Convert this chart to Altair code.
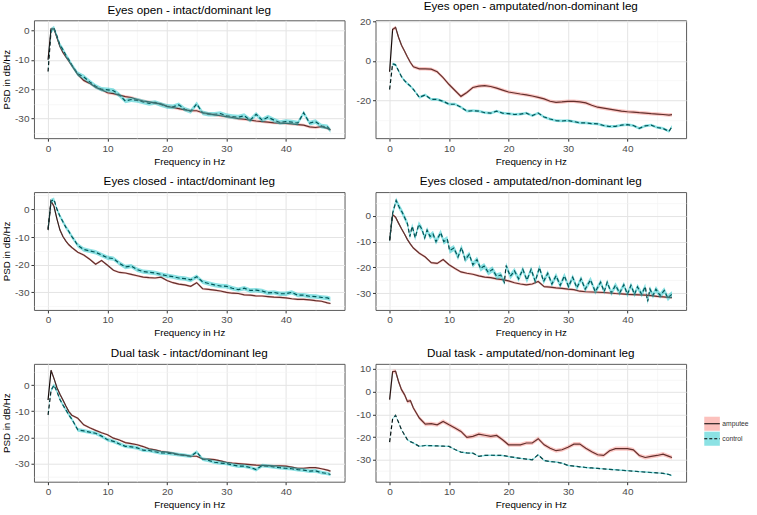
import altair as alt
import pandas as pd

# ---------------- data ----------------
FREQ = [0, 0.5, 1, 1.5, 2, 2.5, 3, 3.5, 4, 5, 6, 7, 8, 9, 10, 11, 12, 13, 14, 15, 16, 17, 18, 19,
        20, 21, 22, 23, 24, 25, 26, 27, 28, 29, 30, 31, 32, 33, 34, 35, 36, 37, 38, 39, 40, 41,
        42, 43, 44, 45, 46, 47, 47.5]

EO_INTACT_AMP = [-10, 0.5, 0.5, -2.5, -5.5, -7.5, -9, -10.5, -12, -15, -17, -18, -19.3, -20.2, -21.2,
                 -21.5, -22, -22.5, -22.8, -23.5, -24, -24.3, -24.7, -25, -25.8, -26.2, -26.6, -27,
                 -27.3, -27.3, -28, -28.3, -28.7, -29, -29.3, -29.6, -30, -30.2, -30.5, -30.8, -31,
                 -31.2, -31.4, -31.5, -31.6, -31.8, -32, -32.2, -32.8, -33, -32.7, -33.3, -33.8]
EO_INTACT_CTRL = [-14, 0, 0.8, -2, -5, -6.5, -8.5, -10, -11.8, -14.8, -15.8, -17.5, -19, -20, -20.2,
                  -20.5, -22, -24, -23.5, -23.8, -24.3, -24.8, -24.5, -25.2, -25.8, -26, -25.3, -26.8,
                  -27.5, -25, -28, -28.5, -28.5, -28.3, -29, -29.3, -29.5, -29, -30.5, -28.5, -30.5,
                  -29.5, -30.5, -31.3, -31, -31.2, -31.5, -28, -31.5, -31, -32.5, -32.8, -34]

EO_AMPUT_AMP = [-5.5, 16, 17, 12, 8, 5, 2, -0.8, -3, -4, -4, -4.2, -5.5, -8.5, -12, -15, -18, -16,
                -13.5, -12.8, -12.5, -13, -13.8, -14.8, -15.8, -16.3, -16.8, -17.2, -17.8, -18.5,
                -19.3, -20.5, -21, -20.8, -20.5, -20.5, -20.8, -21.3, -22.5, -23.5, -24, -24.5, -25,
                -25.5, -25.8, -26, -26.3, -26.5, -26.8, -27, -27.2, -27.5, -27.3]
EO_AMPUT_CTRL = [-14.5, -1.5, -2, -5, -8, -10, -11.5, -12.8, -14.5, -18.5, -17.3, -19.5, -19.5, -20.5,
                 -22, -22, -23.5, -25.5, -25.3, -25.5, -26.3, -26.5, -25.5, -26.5, -26.8, -27.2, -27,
                 -26.5, -27.8, -26.5, -28.5, -29.5, -30.3, -30.5, -30.3, -30.8, -31.5, -31.5, -31.8,
                 -32, -32.8, -33.3, -33.2, -32.6, -32.4, -32.8, -34.2, -33, -32.6, -33.8, -34.3,
                 -35.8, -33.3]

EC_INTACT_AMP = [-7.5, 3, 1, -3.5, -7.5, -9.8, -11.5, -12.8, -13.8, -15.5, -16.5, -18, -19.8, -18.5,
                 -20.2, -22, -22.8, -23, -23.5, -24, -24.5, -24.7, -24.8, -24.5, -25.7, -26.5, -27,
                 -27.3, -27.8, -26.5, -28.7, -28.9, -29.2, -29.5, -30, -30.3, -30.4, -30.9, -31,
                 -31.3, -31.3, -31.5, -31.7, -31.8, -32, -32.3, -32.5, -32.5, -32.7, -33, -33.2,
                 -33.8, -34]
EC_INTACT_CTRL = [-7, 3, 3.5, 0, -2.5, -4.5, -6.5, -8, -9.8, -13, -14.5, -15, -15.5, -16.5, -17.5,
                  -17.8, -19.5, -20.8, -20.5, -21.8, -22.5, -22.7, -23, -23.5, -24, -24.3, -24.8, -25,
                  -25.5, -24.3, -26.2, -26.8, -27.3, -27.7, -27.8, -28.5, -29, -28.5, -29.3, -29.2,
                  -29.5, -30.2, -30, -30.5, -30.5, -30, -31, -31, -31.4, -31.5, -31.8, -32, -32.4]

EC_AMPUT_AMP = [-9.5, 0.5, -0.5, -2.8, -5, -7, -9.2, -11, -12.5, -14.5, -16, -18.2, -18.5, -17, -19,
                -20.5, -21.8, -22.3, -22.7, -23.3, -23.8, -24, -24.5, -24.8, -25.3, -26, -26.5, -26.8,
                -26.5, -25.5, -27.5, -27.7, -28, -28.2, -28.5, -28.7, -29.3, -29.5, -29.6, -29.7,
                -29.8, -30, -30.2, -30.3, -30.5, -30.6, -30.7, -30.8, -31, -31.3, -31.5, -31.7, -31.8]
EC_AMPUT_CTRL_FREQ = [0, 0.5, 1.1, 1.6, 2.1, 2.6, 3.0, 3.4, 3.8, 4.3, 4.9, 5.4, 5.9, 6.3, 6.8, 7.3,
                      7.8, 8.6, 9.1, 9.7, 10.1, 10.8, 11.5, 12.1, 12.7, 13.4, 14.0, 14.7, 15.3, 15.9,
                      16.6, 17.3, 18.0, 18.7, 19.3, 19.6, 20.3, 21.0, 21.7, 22.4, 23.1, 23.8, 24.5,
                      25.2, 25.9, 26.6, 27.3, 28.0, 28.7, 29.4, 30.1, 30.8, 31.5, 32.2, 32.9, 33.8,
                      34.6, 35.5, 36.1, 36.6, 37.3, 38.0, 38.7, 39.4, 40.0, 40.6, 41.2, 41.7, 42.4,
                      43.0, 43.4, 43.8, 44.3, 44.8, 45.5, 46.2, 46.8, 47.2, 47.5]
EC_AMPUT_CTRL = [-9.5, 1, 6, 3.5, 1.5, -1, -3, -8, -4, -8.5, -3.3, -5, -8.5, -5.5, -8, -7, -10, -6.5,
                 -10, -9, -13.5, -12.5, -16, -12.3, -17, -15, -19, -17, -20.5, -19.5, -22, -20.8,
                 -23.5, -23, -25.8, -19.3, -23.5, -21.4, -24.5, -20.8, -25, -20.8, -25.5, -20.1,
                 -25.5, -22.3, -26.5, -23.3, -27, -23.3, -27.5, -23.9, -28, -24.5, -28.5, -24.9,
                 -29.5, -25.8, -29.5, -25.8, -30, -27, -30, -26.8, -30.5, -27, -30.5, -27.6, -30.5,
                 -27.5, -33.3, -28.5, -31, -28.5, -31, -29, -32, -31, -30.5]

DT_INTACT_AMP = [-5.7, 5.7, 2.5, -1, -3.5, -5.7, -8, -10.1, -11.5, -12.7, -15.2, -16.3, -17.3, -18.2,
                 -19, -20.3, -21, -22, -22.4, -22.8, -23.5, -24.4, -24.8, -25.3, -25.6, -26, -26.6,
                 -26.8, -27.2, -27.2, -28.2, -28.3, -28.5, -29, -29.5, -29.8, -30, -30.2, -30.4, -30.6,
                 -30.7, -30.8, -30.9, -30.9, -31, -31.4, -31.8, -31.8, -31.6, -31.6, -32, -32.5, -32.9]
DT_INTACT_CTRL = [-11.4, -2, 0, -2.5, -5.5, -7.6, -9.5, -11.4, -13, -17.1, -17.5, -18, -18.4, -19.5,
                  -20.9, -21.5, -22.5, -23.4, -23.6, -24, -24.9, -25, -25.5, -25.9, -26, -26.3, -26.6,
                  -26.9, -27.2, -25.6, -28.3, -28.8, -29.5, -29.8, -30, -30.5, -31, -31, -31.5, -32.3,
                  -30.8, -31, -31.3, -31.6, -31.8, -32, -32.3, -32.5, -32.9, -32.8, -33.5, -33.8, -34.2]

DT_AMPUT_AMP = [-3.5, 8.8, 9, 4.5, 0.9, -1.3, -4.3, -4, -7.2, -11.6, -14.3, -14.1, -14.6, -13.1,
                -14.6, -16, -17.5, -20.1, -19.7, -18.7, -19.2, -19.7, -19.3, -21.2, -23.4, -23.4,
                -23.4, -22.6, -22.6, -20.7, -23.4, -24.9, -26, -25.6, -24.5, -23.1, -23.1, -24.9,
                -26.5, -27.8, -28.1, -26, -25.1, -25.1, -25.1, -25.6, -28.1, -29, -28.5, -28.1,
                -27.5, -28.5, -29]
DT_AMPUT_CTRL = [-22.2, -12, -10.4, -13.5, -16.8, -19, -21.2, -22, -22.6, -24.1, -23.7, -23.8, -23.9,
                 -24, -24.1, -25.5, -26.6, -27, -27.1, -28.5, -28.1, -28, -28.1, -28.1, -28.6, -29,
                 -29.4, -29.7, -30, -27.8, -30.3, -30.8, -31, -31.5, -32.5, -32.8, -33.1, -33.4,
                 -33.6, -33.8, -34, -34.2, -34.4, -34.6, -34.8, -35, -35.2, -35.4, -35.6, -35.8,
                 -36, -36.5, -37]

# standard errors (ribbon half-widths) read from the ribbons
SE = {
    "eo_int": (0.5, 0.8), "eo_amp": (0.9, 0.7),
    "ec_int": (0.4, 0.8), "ec_amp": (0.5, 1.2),
    "dt_int": (0.4, 0.7), "dt_amp": (0.9, 0.3),
}

GROUPS = ["amputee", "control"]
RIBBON_COLORS = ["#F8766D", "#00BFC4"]
FONT = "Liberation Sans"
PANEL_W, PANEL_H = 311, 118


def series_df(x, y, se, group):
    return pd.DataFrame({"freq": x, "psd": y,
                         "lo": [v - se for v in y], "hi": [v + se for v in y],
                         "group": group})


def expand(lo, hi, f=0.05):
    pad = (hi - lo) * f
    return [lo - pad, hi + pad]


XDOM = expand(min(FREQ), max(FREQ))


def cond(test, a, b):
    return {"condition": {"test": test, "value": a}, "value": b}


def panel(title, amp_x, amp_y, ctrl_x, ctrl_y, se, step, ytitle):
    a = series_df(amp_x, amp_y, se[0], "amputee")
    c = series_df(ctrl_x, ctrl_y, se[1], "control")
    ydom = expand(min(a.lo.min(), c.lo.min()), max(a.hi.max(), c.hi.max()))
    half = step // 2
    k0 = int(ydom[0] // half) + 1
    k1 = int(ydom[1] // half)
    yvals = [int(k * half) for k in range(k0, k1 + 1)]
    xvals = [0, 5, 10, 15, 20, 25, 30, 35, 40, 45]

    xt = "datum.value % 10 === 0"
    yt = "datum.value %% %d === 0" % step
    xaxis = alt.Axis(values=xvals, title="Frequency in Hz",
                     labelExpr="%s ? '' + datum.value : ''" % xt,
                     tickOpacity=cond(xt, 1, 0),
                     gridColor=cond(xt, "#E4E4E4", "#F1F1F1"),
                     gridWidth=cond(xt, 1, 0.6))
    yaxis = alt.Axis(values=yvals, title="PSD in dB/Hz" if ytitle else None,
                     labelExpr="%s ? '' + datum.value : ''" % yt,
                     tickOpacity=cond(yt, 1, 0),
                     gridColor=cond(yt, "#E4E4E4", "#F1F1F1"),
                     gridWidth=cond(yt, 1, 0.6))
    yscale = alt.Scale(domain=ydom, nice=False, zero=False)
    X = alt.X("freq:Q", scale=alt.Scale(domain=XDOM, nice=False, zero=False), axis=xaxis)
    Y = alt.Y("psd:Q", scale=yscale, axis=yaxis)
    YLO = alt.Y("lo:Q", scale=yscale, axis=yaxis)

    ctrl_line = alt.Chart(c).mark_line(color="black", strokeWidth=1.2, strokeDash=[4, 2.5],
                                       clip=True).encode(x=X, y=Y)
    amp_line = alt.Chart(a).mark_line(color="black", strokeWidth=1.2, clip=True).encode(x=X, y=Y)
    amp_rib = alt.Chart(a).mark_area(color=RIBBON_COLORS[0], opacity=0.4, clip=True).encode(
        x=X, y=YLO, y2="hi:Q")
    ctrl_rib = alt.Chart(c).mark_area(color=RIBBON_COLORS[1], opacity=0.45, clip=True).encode(
        x=X, y=YLO, y2="hi:Q")
    return alt.layer(ctrl_line, amp_line, amp_rib, ctrl_rib).properties(
        width=PANEL_W, height=PANEL_H, title=title)


p1 = panel("Eyes open - intact/dominant leg", FREQ, EO_INTACT_AMP, FREQ, EO_INTACT_CTRL,
           SE["eo_int"], 10, True)
p2 = panel("Eyes open - amputated/non-dominant leg", FREQ, EO_AMPUT_AMP, FREQ, EO_AMPUT_CTRL,
           SE["eo_amp"], 20, False)
p3 = panel("Eyes closed - intact/dominant leg", FREQ, EC_INTACT_AMP, FREQ, EC_INTACT_CTRL,
           SE["ec_int"], 10, True)
p4 = panel("Eyes closed - amputated/non-dominant leg", FREQ, EC_AMPUT_AMP, EC_AMPUT_CTRL_FREQ,
           EC_AMPUT_CTRL, SE["ec_amp"], 10, False)
p5 = panel("Dual task - intact/dominant leg", FREQ, DT_INTACT_AMP, FREQ, DT_INTACT_CTRL,
           SE["dt_int"], 10, True)
p6 = panel("Dual task - amputated/non-dominant leg", FREQ, DT_AMPUT_AMP, FREQ, DT_AMPUT_CTRL,
           SE["dt_amp"], 10, False)

# ---------------- legend ----------------
leg = pd.DataFrame({"group": GROUPS, "idx": [0, 1], "color": RIBBON_COLORS,
                    "dash": ["solid", "dashed"]})
LY = alt.Scale(domain=[-4, 3.87], reverse=True)
LX = alt.Scale(domain=[0, 50])
leg_box = alt.Chart(leg).transform_calculate(
    y0="datum.idx - 0.47", y1="datum.idx + 0.47", x0="6", x1="19").mark_rect(
    opacity=0.45).encode(
    x=alt.X("x0:Q", scale=LX, axis=None), x2="x1:Q",
    y=alt.Y("y0:Q", scale=LY, axis=None), y2="y1:Q",
    color=alt.Color("color:N", scale=None))
leg_line = alt.Chart(leg).transform_calculate(x0="6", x1="19").mark_rule(
    color="black", strokeWidth=1.2).encode(
    x=alt.X("x0:Q", scale=LX, axis=None), x2="x1:Q",
    y=alt.Y("idx:Q", scale=LY, axis=None),
    strokeDash=alt.StrokeDash("dash:N", scale=alt.Scale(domain=["solid", "dashed"],
                                                       range=[[1, 0], [3, 2]]), legend=None))
leg_text = alt.Chart(leg).transform_calculate(xt="21").mark_text(
    align="left", baseline="middle", fontSize=6.8, font=FONT, color="#333333").encode(
    x=alt.X("xt:Q", scale=LX, axis=None), y=alt.Y("idx:Q", scale=LY, axis=None),
    text="group:N")
legend = alt.layer(leg_box, leg_line, leg_text).properties(
    width=60, height=PANEL_H, view=alt.ViewBackground(strokeOpacity=0))

row1 = alt.hconcat(p1, p2, spacing=10)
row2 = alt.hconcat(p3, p4, spacing=10)
row3 = alt.hconcat(p5, p6, legend, spacing=10)

chart = alt.vconcat(row1, row2, row3, spacing=8).properties(
    padding={"left": 1, "top": 0, "right": 0, "bottom": 0}
).configure_view(stroke="#5A5A5A", strokeWidth=1).configure_axis(
    labelFont=FONT, titleFont=FONT, labelFontSize=10, labelColor="#4D4D4D",
    tickColor="#333333", tickSize=3, tickWidth=1, labelPadding=2, titleFontSize=9.8,
    titleFontWeight=400, titleColor="#000000", titlePadding=3, domain=False
).configure_title(font=FONT, fontSize=11.7, fontWeight=400, anchor="middle",
                  color="#000000", offset=4)

chart.save("out.html", embed_options={"renderer": "svg", "actions": False})
